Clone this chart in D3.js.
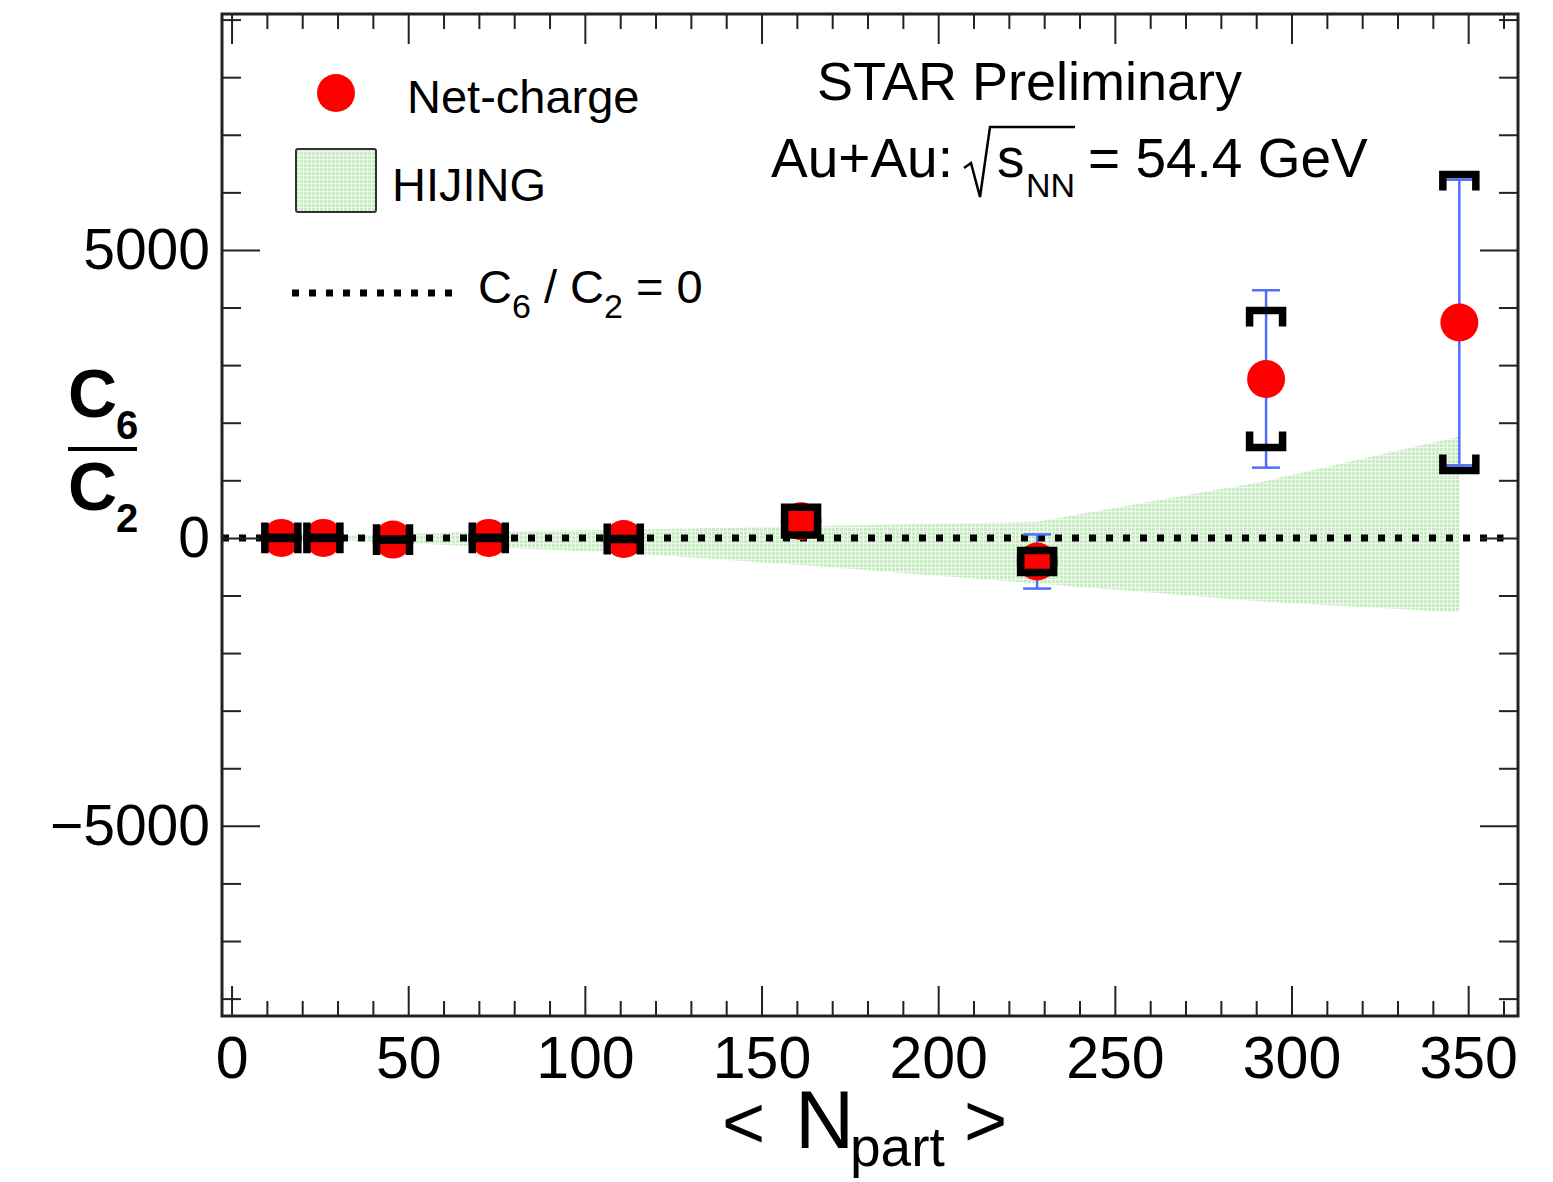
<!DOCTYPE html>
<head>
    <meta charset="utf-8" />
    <title>C6/C2 vs Npart</title>
    <script src="https://d3js.org/d3.v7.min.js"></script>
    <style>
        body { margin: 0; background: #fff; }
        svg text { font-family: "Liberation Sans", Arial, Helvetica, sans-serif; fill: #000; }
    </style>
</head>
<body>
<svg width="1553" height="1182"></svg>
<script>
    // net-charge C6/C2 points
    const npart   = [14.1, 26.0, 45.7, 72.8, 111.0, 161.2, 228.0, 292.8, 347.5];
    const c6c2    = [0, 0, -30, 0, -20, 290, -410, 2760, 3740];
    const statErr = [40, 40, 50, 60, 80, 150, 470, 1540, 2480];
    const sysErr  = [10, 10, 10, 10, 10, 240, 190, 1190, 2570];

    // HIJING band edges at the same Npart
    const hijingHi = [20, 30, 60, 110, 140, 200, 280, 990, 1760];
    const hijingLo = [-20, -30, -80, -160, -260, -470, -790, -1110, -1290];

    const xTicks = [0, 50, 100, 150, 200, 250, 300, 350];
    const yTicks = [-5000, 0, 5000];

    const frame = {left: 222, right: 1518, top: 14, bottom: 1016};
    const svg = d3.select("svg");

    const x = d3.scaleLinear().domain([-2.7, 364.1]).range([frame.left, frame.right]);
    const y = d3.scaleLinear().domain([-8302, 9097]).range([frame.bottom, frame.top]);

    const xMinor = d3.range(10, 361, 10).filter(v => v % 50 !== 0);
    const yMinor = d3.range(-8000, 9001, 1000).filter(v => v % 5000 !== 0);

    // band pattern
    const defs = svg.append("defs");
    const pat = defs.append("pattern").attr("id", "hij").attr("patternUnits", "userSpaceOnUse")
        .attr("width", 4).attr("height", 4);
    pat.append("rect").attr("width", 4).attr("height", 4).attr("fill", "#c8edc3");
    pat.append("rect").attr("x", 3).attr("width", 1).attr("height", 4).attr("fill", "#eefaec");
    pat.append("rect").attr("y", 3).attr("width", 4).attr("height", 1).attr("fill", "#eefaec");

    // HIJING band
    const band = npart.map((d, i) => ({x: d, lo: hijingLo[i], hi: hijingHi[i]}));
    svg.append("path")
        .datum(band)
        .attr("fill", "url(#hij)")
        .attr("d", d3.area().x(d => x(d.x)).y0(d => y(d.lo)).y1(d => y(d.hi)));

    // zero line
    svg.append("path")
        .datum([x.domain()[0], 360])
        .attr("fill", "none").attr("stroke", "#000").attr("stroke-width", 7)
        .attr("stroke-dasharray", "7,10")
        .attr("d", d3.line().x(d => x(d)).y(() => y(0)));

    const pts = npart.map((d, i) => ({x: d, v: c6c2[i], s: statErr[i], sy: sysErr[i]}));
    const blue = "#4f6dff";

    // stat errors
    const eb = svg.append("g").attr("stroke", blue).attr("stroke-width", 2.5).attr("fill", "none");
    pts.forEach(p => {
        const cx = x(p.x);
        eb.append("line").attr("x1", cx).attr("x2", cx).attr("y1", y(p.v + p.s)).attr("y2", y(p.v - p.s));
        eb.append("line").attr("x1", cx - 14).attr("x2", cx + 14).attr("y1", y(p.v + p.s)).attr("y2", y(p.v + p.s));
        eb.append("line").attr("x1", cx - 14).attr("x2", cx + 14).attr("y1", y(p.v - p.s)).attr("y2", y(p.v - p.s));
    });

    // points
    svg.append("g").selectAll("circle").data(pts).join("circle")
        .attr("cx", d => x(d.x)).attr("cy", d => y(d.v)).attr("r", 19).attr("fill", "#ff0000");

    // systematic brackets
    const br = svg.append("g").attr("stroke", "#000").attr("stroke-width", 7.5)
        .attr("fill", "none").attr("stroke-linejoin", "miter");
    pts.forEach(p => {
        const cx = x(p.x), yt = y(p.v + p.sy), yb = y(p.v - p.sy), w = 16.5, leg = 16;
        br.append("path").attr("d", `M${cx - w},${yt + leg}V${yt}H${cx + w}V${yt + leg}`);
        br.append("path").attr("d", `M${cx - w},${yb - leg}V${yb}H${cx + w}V${yb - leg}`);
    });

    // axes
    function styleAxis(g, size) {
        g.select(".domain").remove();
        g.selectAll(".tick line").attr("stroke", "#222").attr("stroke-width", 2);
        g.selectAll("text").attr("font-size", size).attr("font-family", null);
    }
    svg.append("g").attr("transform", `translate(0,${frame.bottom})`)
        .call(d3.axisBottom(x).tickValues(xTicks).tickSize(-30).tickPadding(20).tickFormat(d3.format("d")))
        .call(g => styleAxis(g, 59));
    svg.append("g").attr("transform", `translate(0,${frame.bottom})`)
        .call(d3.axisBottom(x).tickValues(xMinor).tickSize(-15).tickFormat(""))
        .call(g => styleAxis(g, 0));
    svg.append("g").attr("transform", `translate(0,${frame.top})`)
        .call(d3.axisTop(x).tickValues(xTicks).tickSize(-30).tickFormat(""))
        .call(g => styleAxis(g, 0));
    svg.append("g").attr("transform", `translate(0,${frame.top})`)
        .call(d3.axisTop(x).tickValues(xMinor).tickSize(-15).tickFormat(""))
        .call(g => styleAxis(g, 0));

    svg.append("g").attr("transform", `translate(${frame.left},0)`)
        .call(d3.axisLeft(y).tickValues(yTicks).tickSize(-38).tickPadding(12).tickFormat(d3.format("d")))
        .call(g => styleAxis(g, 57));
    svg.append("g").attr("transform", `translate(${frame.left},0)`)
        .call(d3.axisLeft(y).tickValues(yMinor).tickSize(-19).tickFormat(""))
        .call(g => styleAxis(g, 0));
    svg.append("g").attr("transform", `translate(${frame.right},0)`)
        .call(d3.axisRight(y).tickValues(yTicks).tickSize(-38).tickFormat(""))
        .call(g => styleAxis(g, 0));
    svg.append("g").attr("transform", `translate(${frame.right},0)`)
        .call(d3.axisRight(y).tickValues(yMinor).tickSize(-19).tickFormat(""))
        .call(g => styleAxis(g, 0));

    // frame
    svg.append("rect")
        .attr("x", frame.left).attr("y", frame.top)
        .attr("width", frame.right - frame.left).attr("height", frame.bottom - frame.top)
        .attr("fill", "none").attr("stroke", "#222").attr("stroke-width", 3);

    // axis titles
    const xt = svg.append("g");
    xt.append("text").attr("x", 722).attr("y", 1148).attr("font-size", 74).text("<");
    xt.append("text").attr("x", 795).attr("y", 1148).attr("font-size", 82).text("N");
    xt.append("text").attr("x", 850).attr("y", 1166).attr("font-size", 55).text("part");
    xt.append("text").attr("x", 964).attr("y", 1146).attr("font-size", 74).text(">");

    const yt = svg.append("g");
    yt.append("text").attr("x", 68).attr("y", 417).attr("font-size", 68).attr("font-weight", "bold").text("C");
    yt.append("text").attr("x", 116).attr("y", 439).attr("font-size", 40).attr("font-weight", "bold").text("6");
    yt.append("line").attr("x1", 68).attr("x2", 137).attr("y1", 449).attr("y2", 449)
        .attr("stroke", "#000").attr("stroke-width", 4);
    yt.append("text").attr("x", 68).attr("y", 510).attr("font-size", 68).attr("font-weight", "bold").text("C");
    yt.append("text").attr("x", 116).attr("y", 532).attr("font-size", 40).attr("font-weight", "bold").text("2");

    // header text
    svg.append("text").attr("x", 817).attr("y", 100).attr("font-size", 54).text("STAR Preliminary");
    svg.append("text").attr("x", 771).attr("y", 177).attr("font-size", 55).text("Au+Au:");
    svg.append("path").attr("d", "M964,168L971,163L980,197L990,127L1075,127")
        .attr("fill", "none").attr("stroke", "#000").attr("stroke-width", 2.5);
    svg.append("text").attr("x", 997).attr("y", 177).attr("font-size", 55).text("s");
    svg.append("text").attr("x", 1026).attr("y", 197).attr("font-size", 34).text("NN");
    svg.append("text").attr("x", 1088).attr("y", 177).attr("font-size", 55).text("= 54.4 GeV");

    // legend
    svg.append("circle").attr("cx", 336).attr("cy", 93).attr("r", 19).attr("fill", "#ff0000");
    svg.append("text").attr("x", 407).attr("y", 113).attr("font-size", 47).text("Net-charge");
    svg.append("rect").attr("x", 296).attr("y", 149).attr("width", 80).attr("height", 63).attr("rx", 2)
        .attr("fill", "url(#hij)").attr("stroke", "#333").attr("stroke-width", 2);
    svg.append("text").attr("x", 392).attr("y", 201).attr("font-size", 47).text("HIJING");
    svg.append("line").attr("x1", 292).attr("x2", 457).attr("y1", 293).attr("y2", 293)
        .attr("stroke", "#000").attr("stroke-width", 7).attr("stroke-dasharray", "7,10");
    const lt = svg.append("text").attr("x", 478).attr("y", 303).attr("font-size", 47);
    lt.append("tspan").text("C");
    lt.append("tspan").attr("dy", 15).attr("font-size", 34).text("6");
    lt.append("tspan").attr("dy", -15).text(" / C");
    lt.append("tspan").attr("dy", 15).attr("font-size", 34).text("2");
    lt.append("tspan").attr("dy", -15).text(" = 0");
</script>
</body>
